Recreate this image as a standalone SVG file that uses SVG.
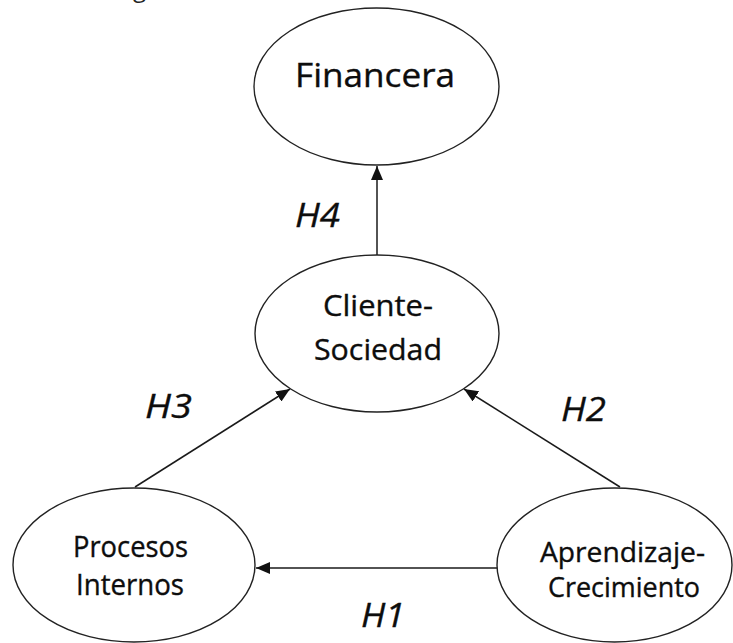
<svg xmlns="http://www.w3.org/2000/svg" width="733" height="643" viewBox="0 0 733 643">
  <style>
    .node ellipse { fill: #ffffff; stroke: #222222; stroke-width: 1.4; }
    .node text { font-family: "Open Sans", "Noto Sans", sans-serif; fill: #0d0d0d; stroke: #0d0d0d; stroke-width: 0.35; text-anchor: middle; }
    .edge { stroke: #1a1a1a; stroke-width: 1.5; fill: none; marker-end: url(#arrow); }
    .hyp { font-family: "Open Sans", "Noto Sans", sans-serif; font-style: italic; font-size: 33px; fill: #0d0d0d; stroke: #0d0d0d; stroke-width: 0.35; }
  </style>
  <defs>
    <marker id="arrow" markerUnits="userSpaceOnUse" markerWidth="14" markerHeight="12" viewBox="0 0 14 12" refX="14" refY="6" orient="auto">
      <path d="M0,0 L14,6 L0,12 Z" fill="#111111"/>
    </marker>
  </defs>
  <rect width="733" height="643" fill="#ffffff"/>

  <!-- heading fragment at the top edge -->
  <text x="133" y="-3" font-family="Open Sans, sans-serif" font-size="24" fill="#222222">g</text>

  <!-- connectors -->
  <g id="connectors">
    <line class="edge" x1="377" y1="255" x2="377" y2="166"/>
    <line class="edge" x1="135" y1="487" x2="290" y2="389"/>
    <line class="edge" x1="620" y1="487" x2="464" y2="389"/>
    <line class="edge" x1="498" y1="568" x2="256" y2="568"/>
    <text class="hyp" x="295" y="227" textLength="45" lengthAdjust="spacingAndGlyphs">H4</text>
    <text class="hyp" x="145" y="418" textLength="47" lengthAdjust="spacingAndGlyphs">H3</text>
    <text class="hyp" x="561" y="421" textLength="45" lengthAdjust="spacingAndGlyphs">H2</text>
    <text class="hyp" x="361" y="627" textLength="44" lengthAdjust="spacingAndGlyphs">H1</text>
  </g>

  <g id="financera" class="node">
    <ellipse cx="376.5" cy="86.5" rx="122.5" ry="78.5"/>
    <text x="375" y="87" font-size="33" textLength="160" lengthAdjust="spacingAndGlyphs">Financera</text>
  </g>

  <g id="cliente-sociedad" class="node">
    <ellipse cx="377" cy="333.5" rx="122" ry="78.5"/>
    <text x="378" y="316" font-size="30" textLength="110" lengthAdjust="spacingAndGlyphs">Cliente-</text>
    <text x="378" y="360" font-size="30" textLength="128" lengthAdjust="spacingAndGlyphs">Sociedad</text>
  </g>

  <g id="procesos-internos" class="node">
    <ellipse cx="134" cy="565" rx="121" ry="77"/>
    <text x="130.5" y="557" font-size="29" textLength="115" lengthAdjust="spacingAndGlyphs">Procesos</text>
    <text x="130" y="595" font-size="29" textLength="108" lengthAdjust="spacingAndGlyphs">Internos</text>
  </g>

  <g id="aprendizaje-crecimiento" class="node">
    <ellipse cx="614.5" cy="565" rx="117.5" ry="77"/>
    <text x="622.5" y="562" font-size="27" textLength="165" lengthAdjust="spacingAndGlyphs">Aprendizaje-</text>
    <text x="624" y="597" font-size="27" textLength="152" lengthAdjust="spacingAndGlyphs">Crecimiento</text>
  </g>
</svg>
